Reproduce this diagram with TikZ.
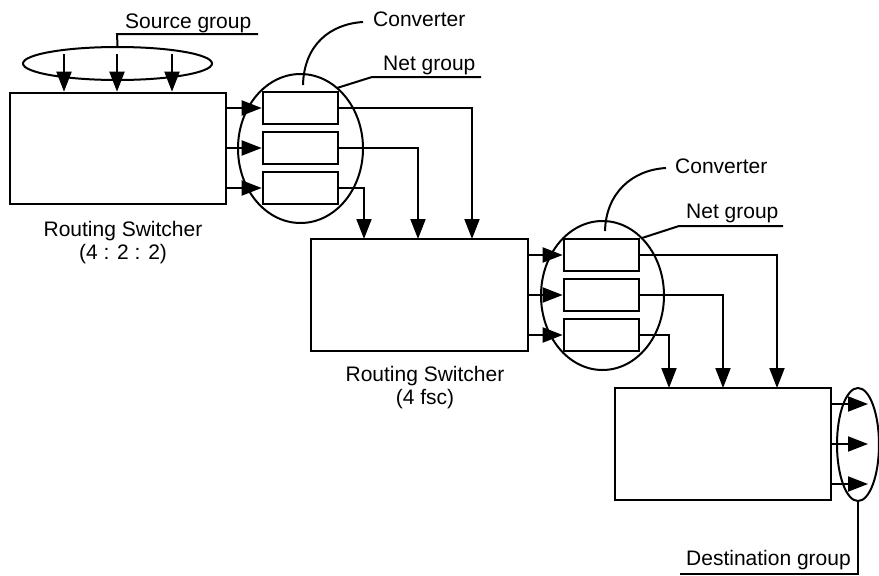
\documentclass[tikz,border=0pt]{standalone}
\usepackage{fontspec}
\setmainfont{Liberation Sans}
\usetikzlibrary{arrows.meta,shapes.geometric,calc}
\begin{document}
\begin{tikzpicture}[x=1pt,y=-1pt,
  lbl/.style={font=\fontsize{21}{23}\selectfont, inner sep=0pt},
  swbox/.style={draw, line width=2.6pt, inner sep=0pt, minimum width=216pt, minimum height=111pt},
  cvbox/.style={draw, line width=2.6pt, inner sep=0pt, minimum width=75pt, minimum height=32pt},
  grp/.style={draw, ellipse, line width=2pt, inner sep=0pt},
  wire/.style={line width=2pt},
  arr/.style={line width=2pt, -{Triangle[length=20pt,width=15pt]}}]
\fill[white] (0,0) rectangle (879,576);
\useasboundingbox (0,0) rectangle (879,576);

% routing switchers
\node[swbox] (sw1) at (118,148.5) {};
\node[swbox, minimum width=217pt, minimum height=112pt] (sw2) at (419.5,295) {};
\node[swbox, minimum height=112pt] (sw3) at (723,444) {};

% box labels
\node[lbl, align=center, anchor=north] (sw1l) at (123,221) {Routing Switcher\\(4 : 2 : 2)};
\node[lbl, align=center, anchor=north] (sw2l) at (425,366) {Routing Switcher\\(4 fsc)};

% source group
\node[grp, minimum width=189pt, minimum height=33pt] (src) at (117.5,63.5) {};
\node[lbl, anchor=base west] (srcl) at (125,28) {Source group};
\coordinate (srcu1) at (258,34);
\coordinate (srcu2) at (117,34);
\draw[wire] (srcu1) -- (srcu2) -- (src.north);
\foreach \x [count=\i] in {64,117,172}{
  \coordinate (s\i) at (\x,54);
  \draw[arr] (s\i) -- (s\i |- sw1.north);
}

% first converter group
\node[cvbox] (c11) at (300.5,108) {};
\node[cvbox] (c12) at (300.5,148) {};
\node[cvbox] (c13) at (300.5,188) {};
\node[grp, minimum width=125pt, minimum height=149pt] (ng1) at (300.5,148.5) {};
\foreach \i in {1,2,3}{
  \draw[arr] (sw1.east |- c1\i.west) -- (c1\i.west);
}
\coordinate (t21) at (364,239);
\coordinate (t22) at (418,239);
\coordinate (t23) at (472,239);
\draw[arr] (c13.east) -| (t21);
\draw[arr] (c12.east) -| (t22);
\draw[arr] (c11.east) -| (t23);

% labels of first group
\node[lbl, anchor=base west] (cv1l) at (373,26) {Converter};
\coordinate (cv1p) at (303,85);
\draw[wire] (cv1p) .. controls (304,45) and (330,24) .. (363,22);
\node[lbl, anchor=base west] (ng1l) at (383,70) {Net group};
\coordinate (ng1p) at (337,88);
\coordinate (ng1a) at (372,77);
\coordinate (ng1b) at (481,77);
\draw[wire] (ng1p) -- (ng1a) -- (ng1b);

% second converter group
\node[cvbox] (c21) at (601.5,255) {};
\node[cvbox] (c22) at (601.5,295) {};
\node[cvbox] (c23) at (601.5,335) {};
\node[grp, minimum width=123pt, minimum height=149pt] (ng2) at (602.5,295.5) {};
\foreach \i in {1,2,3}{
  \draw[arr] (sw2.east |- c2\i.west) -- (c2\i.west);
}
\coordinate (t31) at (669,388);
\coordinate (t32) at (723,388);
\coordinate (t33) at (777,388);
\draw[arr] (c23.east) -| (t31);
\draw[arr] (c22.east) -| (t32);
\draw[arr] (c21.east) -| (t33);

% labels of second group
\node[lbl, anchor=base west] (cv2l) at (675,173) {Converter};
\coordinate (cv2p) at (605,231);
\draw[wire] (cv2p) .. controls (606,193) and (632,170) .. (666,168);
\node[lbl, anchor=base west] (ng2l) at (686,218) {Net group};
\coordinate (ng2p) at (642,238);
\coordinate (ng2a) at (679,226);
\coordinate (ng2b) at (783,226);
\draw[wire] (ng2p) -- (ng2a) -- (ng2b);

% destination group
\node[grp, minimum width=42pt, minimum height=113pt] (dst) at (858,444.5) {};
\foreach \y [count=\i] in {404,444,484}{
  \coordinate (d\i) at (868,\y);
  \draw[arr] (sw3.east |- d\i) -- (d\i);
}
\node[lbl, anchor=base west] (dstl) at (686,565) {Destination group};
\coordinate (dsta) at (863,574);
\coordinate (dstb) at (680,574);
\draw[wire] (dst.south) -- (dst.south |- dsta) -- (dstb);
\end{tikzpicture}
\end{document}
